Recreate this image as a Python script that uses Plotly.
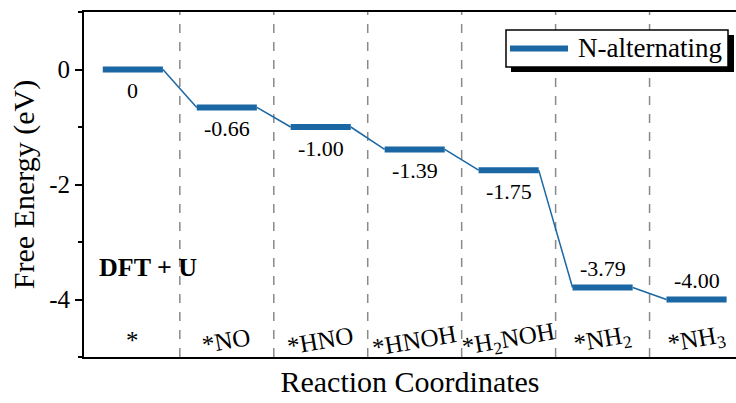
import plotly.graph_objects as go

categories = ["*", "*NO", "*HNO", "*HNOH", "*H<sub>2</sub>NOH", "*NH<sub>2</sub>", "*NH<sub>3</sub>"]
energies = [0, -0.66, -1.00, -1.39, -1.75, -3.79, -4.00]
value_labels = ["0", "-0.66", "-1.00", "-1.39", "-1.75", "-3.79", "-4.00"]
label_above = [False, False, False, False, False, True, True]
series_name = "N-alternating"

COLOR = "#1a67a3"
FONT = "Liberation Serif"
HW = 0.32

W, H = 736, 403
ML, MR, MT, MB = 84, 0, 12, 46
PW, PH = W - ML - MR, H - MT - MB


def px(xp):
    return (xp - ML) / PW


def py(yp):
    return (H - MB - yp) / PH


fig = go.Figure()

# connectors
for i in range(len(energies) - 1):
    fig.add_trace(go.Scatter(x=[i + HW, i + 1 - HW], y=[energies[i], energies[i + 1]],
                             mode="lines", line=dict(color=COLOR, width=1.5),
                             showlegend=False, hoverinfo="skip"))
# levels
for i, e in enumerate(energies):
    fig.add_trace(go.Scatter(x=[i - HW, i + HW], y=[e, e], mode="lines",
                             line=dict(color=COLOR, width=6),
                             name=series_name, showlegend=False, legendgroup="a"))

# dashed separators
for i in range(len(categories) - 1):
    fig.add_shape(type="line", x0=i + 0.5, x1=i + 0.5, y0=-5, y1=1, xref="x", yref="y",
                  line=dict(color="#8a8a8a", width=1.5, dash="dash"), layer="below")

# value labels
for i, (e, t) in enumerate(zip(energies, value_labels)):
    fig.add_annotation(x=i, y=e, text=t, showarrow=False,
                       yshift=19 if label_above[i] else -21,
                       font=dict(family=FONT, size=22, color="black"))

# category labels
for i, c in enumerate(categories):
    fig.add_annotation(x=i, y=-4.72, text=c, showarrow=False, textangle=0 if i == 0 else -10,
                       font=dict(family=FONT, size=25, color="black"))

fig.add_annotation(x=0.02, y=-3.45, xref="paper", text="<b>DFT + U</b>", showarrow=False,
                   xanchor="left", font=dict(family=FONT, size=26, color="black"))

# legend box with shadow
fig.add_shape(type="rect", xref="paper", yref="paper",
              x0=px(511), x1=px(734), y0=py(72), y1=py(35),
              fillcolor="black", line=dict(width=0))
fig.add_shape(type="rect", xref="paper", yref="paper",
              x0=px(506), x1=px(728), y0=py(67), y1=py(30),
              fillcolor="white", line=dict(color="black", width=1.5))
fig.add_shape(type="line", xref="paper", yref="paper",
              x0=px(510), x1=px(568), y0=py(48.5), y1=py(48.5),
              line=dict(color=COLOR, width=6))
fig.add_annotation(xref="paper", yref="paper", x=px(576), y=py(48.5), text=series_name,
                   showarrow=False, xanchor="left", yanchor="middle",
                   font=dict(family=FONT, size=27, color="black"))

fig.update_layout(
    width=W, height=H,
    margin=dict(l=ML, r=MR, t=MT, b=MB),
    paper_bgcolor="white", plot_bgcolor="white",
    font=dict(family=FONT, color="black"),
    showlegend=False,
    xaxis=dict(range=[-0.52, 6.42], showgrid=False, zeroline=False, showticklabels=False,
               ticks="", showline=True, linecolor="black", linewidth=2, mirror=True,
               title=dict(text="Reaction Coordinates", font=dict(family=FONT, size=30), standoff=13)),
    yaxis=dict(range=[-5, 1], showgrid=False, zeroline=False, tickvals=[-4, -2, 0],
               ticktext=["-4", "-2", "0"], ticks="outside", ticklen=7, tickwidth=2,
               tickcolor="black", showline=True, linecolor="black", linewidth=2,
               tickfont=dict(family=FONT, size=25),
               minor=dict(tickvals=[-5, -3, -1, 1], ticks="outside", ticklen=4, tickwidth=1.5, tickcolor="black"),
               title=dict(text="Free Energy (eV)", font=dict(family=FONT, size=30), standoff=6)),
)

fig.write_html("out.html")
